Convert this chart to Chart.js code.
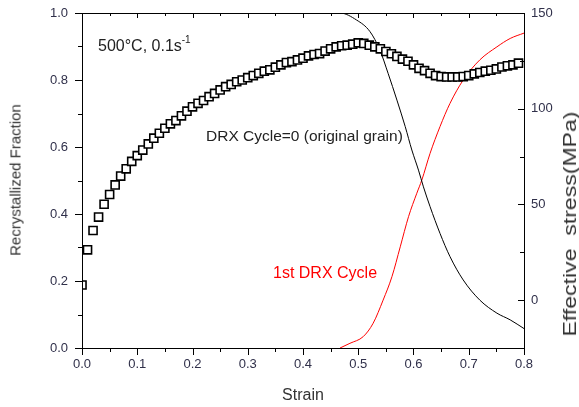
<!DOCTYPE html>
<html>
<head>
<meta charset="utf-8">
<script src="https://cdn.jsdelivr.net/npm/chart.js@4.4.1/dist/chart.umd.min.js"></script>
<style>
  body { margin: 0; background: #fff; overflow: hidden; }
  #wrap { width: 579px; height: 407px; position: relative; }
  .vtitle {
    position: absolute; white-space: nowrap; color: #333;
    font-family: "Liberation Sans", Arial, sans-serif; line-height: 1;
  }
  #titleLeft { left: 15px; top: 180px; font-size: 15px;
    transform: translate(-50%, -50%) rotate(-90deg); }
  #titleRight { left: 570px; top: 224px; font-size: 18px;
    transform: translate(-50%, -50%) rotate(-90deg) scale(1.28, 1); }
</style>
</head>
<body>
<div id="wrap">
  <canvas id="myChart"></canvas>
  <div class="vtitle" id="titleLeft">Recrystallized Fraction</div>
  <div class="vtitle" id="titleRight">Effective_stress(MPa)</div>
</div>
<script>
// strain of the square marks (stress curve)
const strainSq = [0.00, 0.01, 0.02, 0.03, 0.04, 0.05, 0.06, 0.07, 0.08, 0.09,
    0.10, 0.11, 0.12, 0.13, 0.14, 0.15, 0.16, 0.17, 0.18, 0.19,
    0.20, 0.21, 0.22, 0.23, 0.24, 0.25, 0.26, 0.27, 0.28, 0.29,
    0.30, 0.31, 0.32, 0.33, 0.34, 0.35, 0.36, 0.37, 0.38, 0.39,
    0.40, 0.41, 0.42, 0.43, 0.44, 0.45, 0.46, 0.47, 0.48, 0.49,
    0.50, 0.51, 0.52, 0.53, 0.54, 0.55, 0.56, 0.57, 0.58, 0.59,
    0.60, 0.61, 0.62, 0.63, 0.64, 0.65, 0.66, 0.67, 0.68, 0.69,
    0.70, 0.71, 0.72, 0.73, 0.74, 0.75, 0.76, 0.77, 0.78, 0.79];
// effective stress (MPa), right axis
const stress = [7.9, 26.3, 36.4, 43.4, 50.1, 55.2, 60.2, 64.8, 68.6, 72.5,
    75.5, 78.4, 81.6, 84.6, 87.2, 89.8, 92.1, 93.8, 96.3, 98.7,
    101.0, 102.8, 104.3, 106.3, 108.0, 109.8, 111.5, 112.7, 114.1, 115.0,
    116.2, 117.3, 118.5, 119.6, 120.3, 121.7, 122.9, 124.1, 124.6, 125.5,
    126.4, 127.6, 128.3, 128.8, 130.1, 131.3, 132.3, 132.9, 133.2, 133.7,
    134.4, 134.1, 133.2, 132.3, 131.3, 129.9, 128.7, 127.3, 125.9, 124.8,
    122.9, 121.1, 119.9, 118.5, 117.3, 116.8, 116.6, 116.6, 116.6, 116.8,
    117.3, 118.2, 118.9, 119.6, 120.1, 120.8, 121.8, 122.4, 122.9, 123.8];

// DRX cycle 0 (original grain)
const strainC0 = [0, 0.467, 0.497, 0.521, 0.539, 0.554, 0.570, 0.585, 0.597, 0.609,
    0.618, 0.630, 0.648, 0.666, 0.690, 0.720, 0.751, 0.775, 0.8];
const fracC0 = [1.0, 1.0, 0.979, 0.945, 0.890, 0.820, 0.740, 0.661, 0.591, 0.531,
    0.481, 0.422, 0.342, 0.273, 0.203, 0.143, 0.104, 0.084, 0.058];

// 1st DRX cycle
const strainC1 = [0.467, 0.485, 0.509, 0.527, 0.545, 0.561, 0.576, 0.591, 0.606,
    0.615, 0.630, 0.648, 0.666, 0.690, 0.720, 0.751, 0.775, 0.8];
const fracC1 = [0, 0.014, 0.034, 0.074, 0.143, 0.213, 0.302, 0.392, 0.462,
    0.501, 0.581, 0.661, 0.730, 0.800, 0.860, 0.899, 0.924, 0.940];

// ticks
const xTicks = [0, 0.1, 0.2, 0.3, 0.4, 0.5, 0.6, 0.7, 0.8];
const xMinor = [0.05, 0.15, 0.25, 0.35, 0.45, 0.55, 0.65, 0.75];
const yTicks = [0, 0.2, 0.4, 0.6, 0.8, 1.0];
const yMinor = [0.1, 0.3, 0.5, 0.7, 0.9];
const y1Ticks = [0, 50, 100, 150];
const y1Minor = [25, 75, 125];

const tickColor = '#30304a';
const fontFam = '"Liberation Sans", Arial, sans-serif';

const pts = (xs, ys) => xs.map((v, i) => ({ x: v, y: ys[i] }));

// frame, tick marks and the horizontal free text (no canvas rotation)
const decor = {
    id: 'decor',
    afterDraw(chart) {
        const c = chart.ctx;
        const a = chart.chartArea;
        const sx = chart.scales.x, sy = chart.scales.y, sy1 = chart.scales.y1;
        const L = Math.round(a.left), R = Math.round(a.right);
        const T = Math.round(a.top), B = Math.round(a.bottom);

        c.save();
        c.fillStyle = '#000';
        c.fillRect(L, T, R - L + 1, 1);
        c.fillRect(L, B, R - L + 1, 1);
        c.fillRect(L, T, 1, B - T + 1);
        c.fillRect(R, T, 1, B - T + 1);
        xTicks.forEach(v => {
            const px = Math.round(sx.getPixelForValue(v));
            c.fillRect(px, B, 1, 7);
            c.fillRect(px, T, 1, 5);
        });
        xMinor.forEach(v => {
            const px = Math.round(sx.getPixelForValue(v));
            c.fillRect(px, B, 1, 4);
            c.fillRect(px, T, 1, 3);
        });
        yTicks.forEach(v => {
            const py = Math.round(sy.getPixelForValue(v));
            c.fillRect(L - 7, py, 7, 1);
        });
        yMinor.forEach(v => {
            const py = Math.round(sy.getPixelForValue(v));
            c.fillRect(L - 4, py, 4, 1);
        });
        y1Ticks.forEach(v => {
            const py = Math.round(sy1.getPixelForValue(v));
            c.fillRect(R - 6, py, 6, 1);
        });
        y1Minor.forEach(v => {
            const py = Math.round(sy1.getPixelForValue(v));
            c.fillRect(R - 4, py, 4, 1);
        });

        c.fillStyle = '#222';
        c.font = '16px ' + fontFam;
        c.fillText('500°C, 0.1s', 98, 51);
        const w = c.measureText('500°C, 0.1s').width;
        c.font = '10px ' + fontFam;
        c.fillText('-1', 98 + w, 43);

        c.font = '15.5px ' + fontFam;
        c.fillText('DRX Cycle=0 (original grain)', 206, 141);
        c.fillStyle = '#ff0000';
        c.font = '16px ' + fontFam;
        c.fillText('1st DRX Cycle', 273, 278);

        c.fillStyle = '#333';
        c.textAlign = 'center';
        c.font = '16px ' + fontFam;
        c.fillText('Strain', (L + R) / 2, 400);
        c.restore();
    }
};

// keep the plot box where the reference has it
const noOverflow = s => { s.paddingTop = 0; s.paddingBottom = 0; s.paddingLeft = 0; s.paddingRight = 0; };

const ctx = document.getElementById('myChart').getContext('2d');
const myChart = new Chart(ctx, {
    type: 'line',
    data: {
        datasets: [{
            label: 'Effective stress',
            data: pts(strainSq, stress),
            yAxisID: 'y1',
            showLine: false,
            pointStyle: 'rect',
            pointRadius: 5.7,
            pointBorderWidth: 1.6,
            pointBackgroundColor: '#fff',
            pointBorderColor: '#000',
            clip: { left: 0, top: 10, right: 10, bottom: 10 }
        }, {
            label: 'DRX Cycle=0 (original grain)',
            data: pts(strainC0, fracC0),
            yAxisID: 'y',
            borderColor: '#000',
            borderWidth: 1,
            pointRadius: 0,
            cubicInterpolationMode: 'monotone'
        }, {
            label: '1st DRX Cycle',
            data: pts(strainC1, fracC1),
            yAxisID: 'y',
            borderColor: '#ff0000',
            borderWidth: 1,
            pointRadius: 0,
            cubicInterpolationMode: 'monotone'
        }]
    },
    options: {
        responsive: true,
        maintainAspectRatio: false,
        animation: false,
        layout: { padding: { top: 13, left: 0, right: 0, bottom: 0 } },
        plugins: {
            legend: { display: false },
            tooltip: { enabled: false }
        },
        scales: {
            x: {
                type: 'linear',
                min: 0, max: 0.8,
                grid: { display: false, drawTicks: false },
                border: { display: false },
                afterBuildTicks: s => { s.ticks = xTicks.map(v => ({ value: v })); },
                afterFit: s => { s.height = 59; noOverflow(s); },
                ticks: {
                    color: tickColor, padding: 9,
                    font: { family: fontFam, size: 13 },
                    callback: v => v.toFixed(1), maxRotation: 0
                }
            },
            y: {
                position: 'left',
                min: 0, max: 1,
                grid: { display: false, drawTicks: false },
                border: { display: false },
                afterBuildTicks: s => { s.ticks = yTicks.map(v => ({ value: v })); },
                afterFit: s => { s.width = 82; noOverflow(s); },
                ticks: {
                    color: tickColor, padding: 14,
                    font: { family: fontFam, size: 13 },
                    callback: v => v.toFixed(1)
                }
            },
            y1: {
                position: 'right',
                min: -25, max: 150,
                grid: { display: false, drawTicks: false },
                border: { display: false },
                afterBuildTicks: s => { s.ticks = y1Ticks.map(v => ({ value: v })); },
                afterFit: s => { s.width = 55; noOverflow(s); },
                ticks: {
                    color: tickColor, padding: 7,
                    font: { family: fontFam, size: 13 },
                    callback: v => String(v)
                }
            }
        }
    },
    plugins: [decor]
});
</script>
</body>
</html>
